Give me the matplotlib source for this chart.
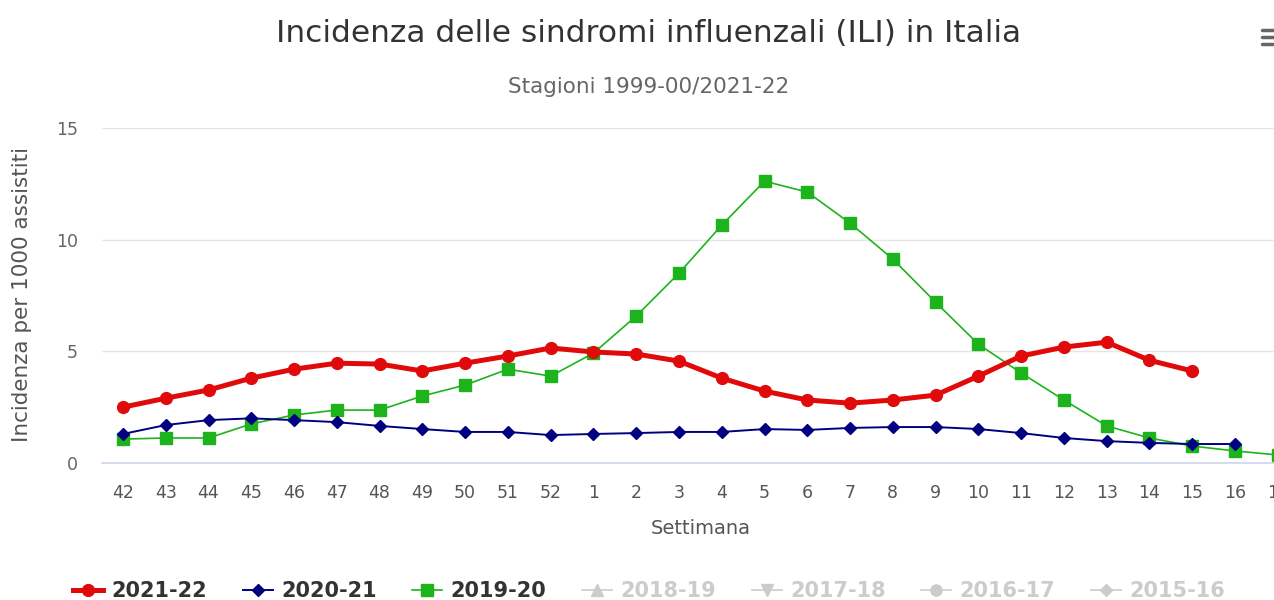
import matplotlib.pyplot as plt
from matplotlib.lines import Line2D
import numpy as np

settimane = ["42", "43", "44", "45", "46", "47", "48", "49", "50", "51", "52",
             "1", "2", "3", "4", "5", "6", "7", "8", "9", "10", "11", "12",
             "13", "14", "15", "16", "17"]

s2021_22 = [2.5, 2.9, 3.27, 3.8, 4.2, 4.47, 4.43, 4.12, 4.47, 4.79, 5.15,
            4.97, 4.88, 4.56, 3.8, 3.22, 2.82, 2.68, 2.82, 3.04, 3.89, 4.79,
            5.19, 5.41, 4.6, 4.12]
s2020_21 = [1.3, 1.7, 1.92, 2.0, 1.92, 1.83, 1.66, 1.52, 1.39, 1.39, 1.25,
            1.3, 1.34, 1.39, 1.39, 1.52, 1.48, 1.57, 1.61, 1.61, 1.52, 1.34,
            1.12, 0.98, 0.9, 0.85, 0.85]
s2019_20 = [1.07, 1.12, 1.12, 1.75, 2.15, 2.37, 2.37, 3.0, 3.49, 4.2, 3.89,
            4.92, 6.58, 8.5, 10.65, 12.62, 12.13, 10.74, 9.13, 7.2, 5.32, 4.03,
            2.82, 1.66, 1.12, 0.76, 0.54, 0.36]

hidden = ["2018-19", "2017-18", "2016-17", "2015-16"]

font = ["DejaVu Sans"]

RED = "#e00a0a"
NAVY = "#000080"
GREEN = "#1db31d"

fig = plt.figure(figsize=(12.74, 6), dpi=100)
# plot area runs past the right edge, as in the cropped original
ax = fig.add_axes([101.6 / 1274, 1 - 463 / 600, 28 * 42.77 / 1274, 335 / 600])

x = np.arange(len(settimane))
ax.plot(x[:len(s2019_20)], s2019_20, color=GREEN, lw=1.2, marker="s", ms=8.5, zorder=3)
ax.plot(x[:len(s2020_21)], s2020_21, color=NAVY, lw=1.4, marker="D", ms=6, zorder=4)
ax.plot(x[:len(s2021_22)], s2021_22, color=RED, lw=3.6, marker="o", ms=8.5, zorder=5)

ax.set_xlim(-0.5, len(settimane) - 0.5)
ax.set_ylim(0, 15)
ax.set_yticks([0, 5, 10, 15])
ax.set_xticks(x)
ax.set_xticklabels(settimane, family=font, fontsize=12.5, color="#555555")
ax.tick_params(axis="y", length=0, pad=17, labelsize=12.5, labelcolor="#666666")
ax.tick_params(axis="x", length=0, pad=15)
ax.grid(axis="y", color="#e6e6e6", lw=1)
ax.set_axisbelow(True)
for side in ["top", "right", "left"]:
    ax.spines[side].set_visible(False)
ax.spines["bottom"].set_color("#ccd6eb")
ax.spines["bottom"].set_linewidth(1.2)

ax.set_xlabel("Settimana", family=font, fontsize=14, color="#555555", labelpad=12)
fig.text(22 / 1274, 1 - 295 / 600, "Incidenza per 1000 assistiti", rotation=90,
         ha="center", va="center", family=font, fontsize=15.5, color="#555555")

fig.text(649 / 1274, 1 - 33 / 600, "Incidenza delle sindromi influenzali (ILI) in Italia",
         ha="center", va="center", family=font, fontsize=22.5, color="#333333")
fig.text(649 / 1274, 1 - 87 / 600, "Stagioni 1999-00/2021-22",
         ha="center", va="center", family=font, fontsize=15.5, color="#666666")

# export menu icon
for yy in [30, 37, 44]:
    fig.add_artist(Line2D([1262 / 1274, 1274 / 1274], [1 - yy / 600] * 2,
                          color="#666666", lw=2.5, solid_capstyle="round"))

handles = [
    Line2D([], [], color=RED, lw=3.6, marker="o", ms=8.5),
    Line2D([], [], color=NAVY, lw=1.4, marker="D", ms=6),
    Line2D([], [], color=GREEN, lw=1.2, marker="s", ms=8.5),
    Line2D([], [], color="#cccccc", lw=1.2, marker="^", ms=8),
    Line2D([], [], color="#cccccc", lw=1.2, marker="v", ms=8),
    Line2D([], [], color="#cccccc", lw=1.2, marker="o", ms=8),
    Line2D([], [], color="#cccccc", lw=1.2, marker="D", ms=6),
]
labels = ["2021-22", "2020-21", "2019-20"] + hidden
leg = fig.legend(handles, labels, loc="center", bbox_to_anchor=(649 / 1274, 1 - 591 / 600),
                 ncol=7, frameon=False, handlelength=1.45, handletextpad=0.4,
                 columnspacing=1.7, borderpad=0,
                 prop={"family": font, "size": 15, "weight": "bold"})
for i, t in enumerate(leg.get_texts()):
    t.set_color("#333333" if i < 3 else "#cccccc")

fig.savefig("out.png", dpi=100)
